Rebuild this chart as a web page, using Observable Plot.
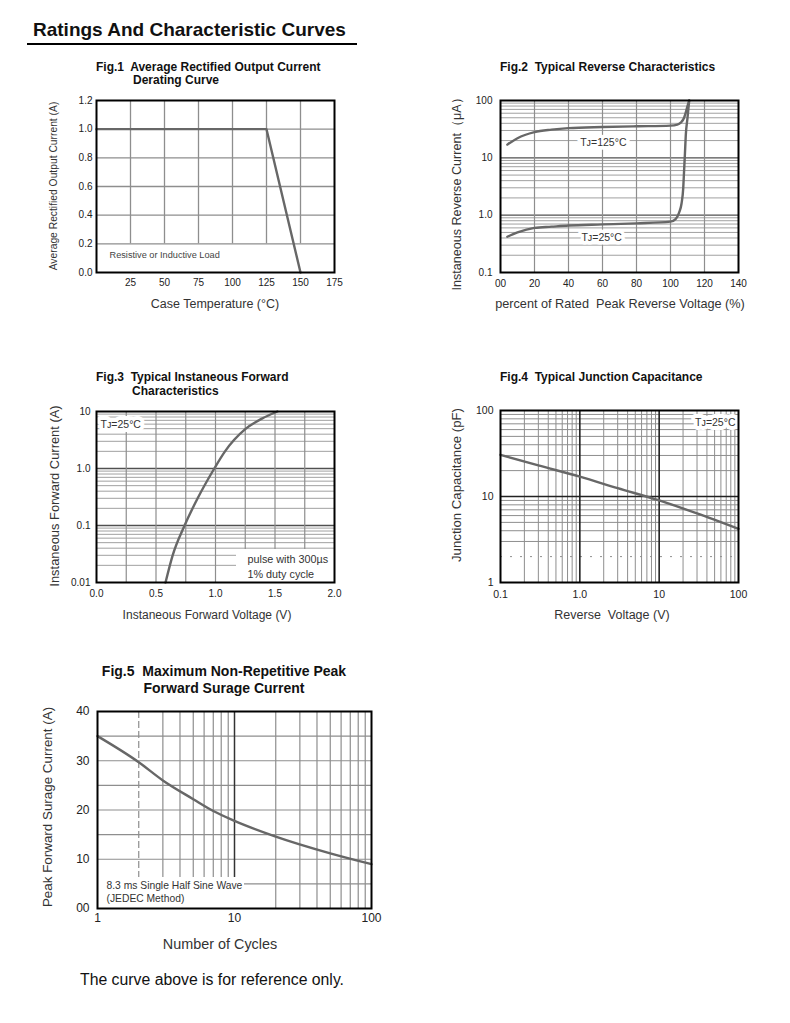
<!DOCTYPE html>
<html><head><meta charset="utf-8">
<script src="https://cdn.jsdelivr.net/npm/d3@7"></script>
<script src="https://cdn.jsdelivr.net/npm/@observablehq/plot@0.6"></script>
<style>
body{margin:0;background:#fff;}
#page{position:relative;width:790px;height:1023px;background:#fff;font-family:"Liberation Sans",Arial,Helvetica,sans-serif;color:#111;overflow:hidden}
.t{position:absolute;white-space:pre;line-height:1}
.fig{font-weight:bold;font-size:12px;color:#111}
.ax{font-size:12.5px;color:#333}
svg{position:absolute}
</style></head><body><div id="page"></div>
<script>
// ---------------- data ----------------
// Fig.1 derating curve
const fig1Temp = [0, 125, 150];
const fig1Current = [1.0, 1.0, 0.0];
const fig1XTicks = [25, 50, 75, 100, 125, 150, 175];
const fig1XLabels = ["25", "50", "75", "100", "125", "150", "175"];
const fig1YTicks = [0, 0.2, 0.4, 0.6, 0.8, 1.0, 1.2];
const fig1YLabels = ["0.0", "0.2", "0.4", "0.6", "0.8", "1.0", "1.2"];
const fig1GridX = [25, 50, 75, 100, 125, 150];
const fig1GridY = [0.2, 0.4, 0.6, 0.8, 1.0];
const fig1Note = "Resistive or Inductive Load";

// Fig.2 reverse characteristics
const fig2Volt125 = [4, 10, 20, 30, 40, 60, 80, 100, 104, 106, 108, 109, 110, 111];
const fig2Curr125 = [17, 22, 28, 31, 33, 34.5, 35.5, 36.5, 38, 41, 50, 62, 80, 100];
const fig2Volt25 = [4, 10, 20, 30, 40, 60, 80, 100, 103, 105, 106.5, 107.5, 108, 108.5, 109, 110, 111];
const fig2Curr25 = [0.42, 0.5, 0.6, 0.63, 0.66, 0.69, 0.72, 0.77, 0.85, 1.1, 1.6, 3, 6, 12, 25, 50, 100];
const fig2XTicks = [0, 20, 40, 60, 80, 100, 120, 140];
const fig2XLabels = ["00", "20", "40", "60", "80", "100", "120", "140"];
const fig2YTicks = [0.1, 1, 10, 100];
const fig2YLabels = ["0.1", "1.0", "10", "100"];
const fig2GridX = [20, 40, 60, 80, 100, 120];
const fig2Labels = [{text: "T\u1D0A=125°C", x: 60.5, y: 18.3}, {text: "T\u1D0A=25°C", x: 59.5, y: 0.413}];

// Fig.3 forward characteristics
const fig3Volt = [0.58, 0.64, 0.74, 0.85, 0.99, 1.08, 1.25, 1.39, 1.52];
const fig3Curr = [0.01, 0.03, 0.1, 0.3, 1.0, 2.0, 4.9, 7.5, 10];
const fig3XTicks = [0, 0.5, 1.0, 1.5, 2.0];
const fig3XLabels = ["0.0", "0.5", "1.0", "1.5", "2.0"];
const fig3YTicks = [0.01, 0.1, 1, 10];
const fig3YLabels = ["0.01", "0.1", "1.0", "10"];
const fig3GridX = [0.25, 0.5, 0.75, 1.0, 1.25, 1.5, 1.75];
const fig3Tj = "T\u1D0A=25°C";
const fig3Note = "pulse with 300\u00B5s\n1% duty cycle";

// Fig.4 junction capacitance
const fig4Volt = [0.1, 0.3, 1, 3, 10, 30, 100];
const fig4Cap = [30.5, 23, 17, 12.5, 9, 6.35, 4.2];
const fig4XTicks = [0.1, 1, 10, 100];
const fig4XLabels = ["0.1", "1.0", "10", "100"];
const fig4YTicks = [1, 10, 100];
const fig4YLabels = ["1", "10", "100"];
const fig4Tj = "T\u1D0A=25°C";

// Fig.5 surge current
const fig5Cycles = [1, 2, 3, 5, 7, 10, 20, 50, 100];
const fig5Surge = [35, 29.7, 26, 22.2, 19.8, 17.8, 14.6, 11.2, 9];
const fig5XTicks = [1, 10, 100];
const fig5XLabels = ["1", "10", "100"];
const fig5YTicks = [0, 10, 20, 30, 40];
const fig5YLabels = ["00", "10", "20", "30", "40"];
const fig5GridY = [5, 10, 15, 20, 25, 30, 35];
const fig5Note = "8.3 ms Single Half Sine Wave\n(JEDEC Method)";

// ---------------- helpers ----------------
const page = document.getElementById("page");
const FONT = "'Liberation Sans', Arial, Helvetica, sans-serif";
const GRID = "#8e8e8e", GRID_MINOR = "#a0a0a0", MAJOR = "#505050", CURVE = "#676767";
const fmt = (ticks, labels) => { const m = new Map(ticks.map((t, i) => [t, labels[i]])); return d => m.get(d); };
const pts = (xs, ys) => xs.map((x, i) => ({x, y: ys[i]}));
function logGrid(lo, hi) {
  const minor = [], major = [];
  for (let d = lo; d < hi * 0.999; d *= 10) {
    for (let k = 1; k <= 9; k++) {
      const v = +(k * d).toPrecision(6);
      if (v <= lo * 1.0001) continue;
      if (k === 1) major.push(v); else minor.push(v);
    }
  }
  return {minor, major};
}
function style(fs) { return {fontFamily: FONT, fontSize: fs + "px", color: "#222", background: "none", overflow: "visible"}; }
function place(svg, left, top) { svg.style.left = left + "px"; svg.style.top = top + "px"; page.appendChild(svg); }
function text(str, x, y, cls, opts = {}) {
  const d = document.createElement("div");
  d.className = "t " + cls;
  d.textContent = str;
  d.style.left = x + "px"; d.style.top = y + "px";
  const anchor = opts.center ? "translate(-50%,-50%)" : "translate(0,-50%)";
  d.style.transform = anchor + (opts.rotate ? " rotate(-90deg)" : "");
  if (opts.size) d.style.fontSize = opts.size + "px";
  if (opts.weight) d.style.fontWeight = opts.weight;
  if (opts.color) d.style.color = opts.color;
  page.appendChild(d);
  return d;
}
// white legend box anchored to a frame corner (layout only, sizes in px)
function noteBox(corner, w, h) {
  return (index, scales, values, dim) => {
    const fx0 = dim.marginLeft, fx1 = dim.width - dim.marginRight;
    const fy1 = dim.height - dim.marginBottom;
    const x = corner === "bottom-left" ? fx0 : fx1 - w;
    return d3.create("svg:rect").attr("x", x).attr("y", fy1 - h).attr("width", w).attr("height", h).attr("fill", "white").node();
  };
}
const curve = (xs, ys, c = "monotone-x") => Plot.line(pts(xs, ys), {x: "x", y: "y", stroke: CURVE, strokeWidth: 2.4, curve: c});
const frame = () => Plot.frame({stroke: "#000", strokeWidth: 2});
const axX = (t, l, pad = 6, fs = 10) => Plot.axisX(t, {tickSize: 0, tickPadding: pad, tickFormat: fmt(t, l), label: null, fontSize: fs});
const axY = (t, l, pad = 6, fs = 10) => Plot.axisY(t, {tickSize: 0, tickPadding: pad, tickFormat: fmt(t, l), label: null, fontSize: fs});

// ---------------- page text ----------------
text("Ratings And Characteristic Curves", 33, 29, "", {size: 19, weight: "bold"});
const rule = document.createElement("div");
Object.assign(rule.style, {position: "absolute", left: "27px", top: "43px", width: "330px", height: "2px", background: "#000"});
page.appendChild(rule);

text("Fig.1  Average Rectified Output Current", 96, 67, "fig");
text("Derating Curve", 133, 80, "fig");
text("Fig.2  Typical Reverse Characteristics", 500, 67, "fig");
text("Fig.3  Typical Instaneous Forward", 96, 377, "fig");
text("Characteristics", 132, 391, "fig");
text("Fig.4  Typical Junction Capacitance", 500, 377, "fig");
text("Fig.5  Maximum Non-Repetitive Peak", 224, 671, "fig", {center: true, size: 14});
text("Forward Surage Current", 224, 688, "fig", {center: true, size: 14});

text("Average Rectified Output Current (A)", 54, 186, "ax", {center: true, rotate: true, size: 10.3});
text("Case Temperature (°C)", 215, 304, "ax", {center: true, size: 12.5});
text("Instaneous Reverse Current（μA）", 457, 191, "ax", {center: true, rotate: true, size: 12.6});
text("percent of Rated  Peak Reverse Voltage (%)", 620, 304, "ax", {center: true, size: 12.7});
text("Instaneous Forward Current (A)", 55, 496, "ax", {center: true, rotate: true, size: 12.9});
text("Instaneous Forward Voltage (V)", 207, 615, "ax", {center: true, size: 12});
text("Junction Capacitance (pF)", 457, 485, "ax", {center: true, rotate: true, size: 13.2});
text("Reverse  Voltage (V)", 612, 615, "ax", {center: true, size: 12.5});
text("Peak Forward Surage Current (A)", 48, 807, "ax", {center: true, rotate: true, size: 13.4});
text("Number of Cycles", 220, 944, "ax", {center: true, size: 14.4});
text("The curve above is for reference only.", 80, 980, "", {size: 15.8, color: "#111"});

// ---------------- Fig.1 ----------------
place(Plot.plot({
  width: 314, height: 210, marginLeft: 60, marginRight: 16, marginTop: 10, marginBottom: 28,
  style: style(10),
  x: {domain: [0, 175]}, y: {domain: [0, 1.2]},
  marks: [
    Plot.ruleX(fig1GridX, {y1: 0.2, y2: 1.2, stroke: GRID, strokeWidth: 1.3}),
    Plot.ruleY(fig1GridY, {stroke: GRID, strokeWidth: 1.3}),
    Plot.text([fig1Note], {text: d => d, frameAnchor: "bottom-left", textAnchor: "start", dx: 13, dy: -14.7, fontSize: 9.2, fill: "#444"}),
    curve(fig1Temp, fig1Current, "linear"),
    frame(),
    axX(fig1XTicks, fig1XLabels, 6),
    axY(fig1YTicks, fig1YLabels, 4)
  ]
}), 36, 90);

// ---------------- Fig.2 ----------------
const g2 = logGrid(0.1, 100);
place(Plot.plot({
  width: 318, height: 210, marginLeft: 60, marginRight: 20, marginTop: 10, marginBottom: 28,
  style: style(10),
  x: {domain: [0, 140]}, y: {type: "log", domain: [0.1, 100]},
  marks: [
    Plot.ruleY(g2.minor, {stroke: GRID_MINOR, strokeWidth: 1}),
    Plot.ruleY(g2.major, {stroke: MAJOR, strokeWidth: 1.4}),
    Plot.ruleX(fig2GridX, {stroke: GRID, strokeWidth: 1.2}),
    Plot.text(fig2Labels, {x: "x", y: "y", text: "text", fontSize: 10.5, fill: "#333", stroke: "white", strokeWidth: 7}),
    curve(fig2Volt125, fig2Curr125),
    curve(fig2Volt25, fig2Curr25),
    frame(),
    axX(fig2XTicks, fig2XLabels, 7),
    axY(fig2YTicks, fig2YLabels, 8)
  ]
}), 440, 90);

// ---------------- Fig.3 ----------------
const g3 = logGrid(0.01, 10);
place(Plot.plot({
  width: 314, height: 209, marginLeft: 60, marginRight: 16, marginTop: 10, marginBottom: 28,
  style: style(10),
  x: {domain: [0, 2]}, y: {type: "log", domain: [0.01, 10]},
  marks: [
    Plot.ruleY(g3.minor, {stroke: GRID_MINOR, strokeWidth: 1}),
    Plot.ruleY(g3.major, {stroke: MAJOR, strokeWidth: 1.4}),
    Plot.ruleX(fig3GridX, {stroke: GRID, strokeWidth: 1.2}),
    Plot.text([fig3Tj], {text: d => d, frameAnchor: "top-left", textAnchor: "start", dx: 4, dy: 9, fontSize: 10.5, fill: "#333", stroke: "white", strokeWidth: 8}),
    noteBox("bottom-right", 98, 33),
    Plot.text([fig3Note], {text: d => d, frameAnchor: "bottom-right", textAnchor: "start", lineAnchor: "middle", lineHeight: 1.3, dx: -87, dy: -16.5, fontSize: 10.8, fill: "#333"}),
    curve(fig3Volt, fig3Curr),
    frame(),
    axX(fig3XTicks, fig3XLabels, 7),
    axY(fig3YTicks, fig3YLabels, 6)
  ]
}), 36, 401);

// ---------------- Fig.4 ----------------
const g4x = logGrid(0.1, 100), g4y = logGrid(1, 100);
place(Plot.plot({
  width: 318, height: 210, marginLeft: 60, marginRight: 20, marginTop: 10, marginBottom: 28,
  style: style(10.5),
  x: {type: "log", domain: [0.1, 100]}, y: {type: "log", domain: [1, 100]},
  marks: [
    Plot.ruleY(g4y.minor.filter(v => v !== 2), {stroke: GRID, strokeWidth: 1}),
    Plot.ruleY([2], {stroke: GRID, strokeWidth: 1, strokeDasharray: "2,8"}),
    Plot.ruleX(g4x.minor, {stroke: GRID, strokeWidth: 1}),
    Plot.ruleX(g4x.major, {stroke: "#222", strokeWidth: 1.6}),
    Plot.ruleY(g4y.major, {stroke: "#222", strokeWidth: 1.6}),
    Plot.text([fig4Tj], {text: d => d, frameAnchor: "top-right", textAnchor: "end", dx: -3, dy: 8, fontSize: 10.5, fill: "#333", stroke: "white", strokeWidth: 8}),
    curve(fig4Volt, fig4Cap),
    frame(),
    axX(fig4XTicks, fig4XLabels, 8, 10.5),
    axY(fig4YTicks, fig4YLabels, 7, 10.5)
  ]
}), 440, 400);

// ---------------- Fig.5 ----------------
const g5x = logGrid(1, 100);
place(Plot.plot({
  width: 355, height: 233, marginLeft: 61, marginRight: 20, marginTop: 11, marginBottom: 25,
  style: style(12),
  x: {type: "log", domain: [1, 100]}, y: {domain: [0, 40]},
  marks: [
    Plot.ruleY(fig5GridY, {stroke: GRID, strokeWidth: 1.2}),
    Plot.ruleX(g5x.minor.filter(v => v !== 2), {stroke: GRID, strokeWidth: 1.2}),
    Plot.ruleX([2], {stroke: GRID, strokeWidth: 1.2, strokeDasharray: "7,3"}),
    Plot.ruleX(g5x.major, {stroke: "#333", strokeWidth: 1.5}),
    noteBox("bottom-left", 147, 31),
    Plot.text([fig5Note], {text: d => d, frameAnchor: "bottom-left", textAnchor: "start", lineAnchor: "middle", lineHeight: 1.2, dx: 9, dy: -17, fontSize: 10.3, fill: "#333"}),
    curve(fig5Cycles, fig5Surge),
    frame(),
    axX(fig5XTicks, fig5XLabels, 5, 12),
    axY(fig5YTicks, fig5YLabels, 8, 12)
  ]
}), 36, 700);
</script></body></html>
